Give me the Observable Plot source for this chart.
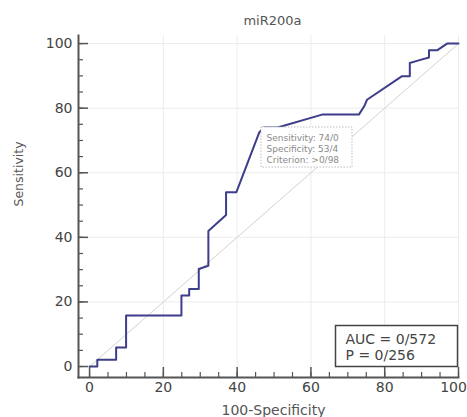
<!DOCTYPE html>
<html>
<head>
<meta charset="utf-8">
<script src="https://cdn.jsdelivr.net/npm/d3@7"></script>
<script src="https://cdn.jsdelivr.net/npm/@observablehq/plot@0.6"></script>
<style>
  html, body { margin: 0; padding: 0; background: #fff; }
</style>
</head>
<body>
<div id="chart"></div>
<script>
// ROC curve points: x = 100 - Specificity, y = Sensitivity
const fpr = [0, 2.1, 2.1, 7.2, 7.2, 9.9, 9.9, 24.9, 24.9, 27.0, 27.0, 29.6, 29.6, 32.2, 32.2, 37.0, 37.0, 39.8, 46.0, 47.2, 51.0, 63.0, 73.0, 74.4, 75.2, 84.7, 86.8, 86.8, 89.2, 92.0, 92.0, 94.2, 96.9, 100];
const tpr = [0, 0, 2.1, 2.1, 5.9, 5.9, 15.8, 15.8, 22.0, 22.0, 24.0, 24.0, 30.2, 31.2, 42.0, 46.9, 54.0, 54.0, 72.5, 74.0, 74.0, 78.0, 78.0, 80.5, 82.6, 89.9, 89.9, 94.0, 94.8, 95.7, 97.9, 97.9, 100, 100];
const diagX = [0, 100];
const diagY = [0, 100];

const title = "miR200a";
const xLabel = "100-Specificity";
const yLabel = "Sensitivity";

const xMajor = [0, 20, 40, 60, 80];
const xLast = [100];
const yMajor = [0, 20, 40, 60, 80, 100];
const minorTicks = [0, 5, 10, 15, 20, 25, 30, 35, 40, 45, 50, 55, 60, 65, 70, 75, 80, 85, 90, 95, 100];
const gridValues = [20, 40, 60, 80, 100];

// Optimal criterion
const critSensitivity = 74.0;
const critSpecificity = 53.4;
const critLines = ["Sensitivity: 74/0", "Specificity: 53/4", "Criterion: >0/98"];

const aucLines = ["AUC = 0/572", "P = 0/256"];

const roc = fpr.map((x, i) => ({x, y: tpr[i]}));
const diag = diagX.map((x, i) => ({x, y: diagY[i]}));
const crit = [{x: 100 - critSpecificity, y: critSensitivity, text: critLines.join("\n")}];

const axisColor = "#555";

const chart = Plot.plot({
  width: 467,
  height: 417,
  marginLeft: 78,
  marginRight: 9,
  marginTop: 35,
  marginBottom: 40,
  style: {fontFamily: "'DejaVu Sans', sans-serif", fontSize: "14px", color: "#444", background: "#fff"},
  x: {domain: [-3, 100]},
  y: {domain: [-3.4, 102.5]},
  marks: [
    Plot.gridX(gridValues, {stroke: "#ececec", strokeOpacity: 1}),
    Plot.gridY(gridValues, {stroke: "#ececec", strokeOpacity: 1}),
    Plot.line(diag, {x: "x", y: "y", stroke: "#d0d4c8", strokeWidth: 1}),
    Plot.line(roc, {x: "x", y: "y", stroke: "#3d3d8a", strokeWidth: 2, strokeLinejoin: "round"}),
    Plot.rect(crit, {x1: "x", x2: "x", y1: "y", y2: "y", insetRight: -91, insetBottom: -40, fill: "#fff", stroke: "#bdbdbd", strokeDasharray: "1.5,1.5"}),
    Plot.text(crit, {x: "x", y: "y", text: "text", textAnchor: "start", lineAnchor: "top", dx: 5, dy: 5, fontSize: 9, lineHeight: 1.25, fill: "#8a8a8a"}),
    // AUC box
    Plot.frame({insetLeft: 257, insetTop: 290, insetRight: 1, insetBottom: 11, stroke: "#444", strokeWidth: 1.5, fill: "#fff"}),
    Plot.text([aucLines.join("\n")], {frameAnchor: "bottom-right", textAnchor: "start", lineAnchor: "top", dx: -113, dy: -45, fontSize: 14, lineHeight: 1.15, fill: "#444"}),
    // axes
    Plot.frame({anchor: "left", stroke: axisColor, strokeWidth: 2}),
    Plot.frame({anchor: "bottom", stroke: axisColor, strokeWidth: 2}),
    Plot.axisY(yMajor, {anchor: "left", tickSize: 10, dx: 10, tickPadding: 6, stroke: axisColor, strokeWidth: 1.5, fill: "#444", fontSize: 14, label: null}),
    Plot.axisY(minorTicks, {anchor: "left", tickSize: 5, dx: 5, tickFormat: () => "", stroke: axisColor, strokeWidth: 1.2, label: null}),
    Plot.axisX(xMajor, {anchor: "bottom", tickSize: 10, dy: -10, tickPadding: 5, stroke: axisColor, strokeWidth: 1.5, fill: "#444", fontSize: 14, label: null}),
    Plot.axisX(xLast, {anchor: "bottom", tickSize: 0, dy: 0, tickPadding: 5, dx: -5, fill: "#444", fontSize: 14, label: null}),
    Plot.axisX(xLast, {anchor: "bottom", tickSize: 10, dy: -10, tickFormat: () => "", stroke: axisColor, strokeWidth: 1.5, label: null}),
    Plot.axisX(minorTicks, {anchor: "bottom", tickSize: 5, dy: -5, tickFormat: () => "", stroke: axisColor, strokeWidth: 1.2, label: null}),
    // titles
    Plot.text([title], {frameAnchor: "top", dx: 4, dy: -15, lineAnchor: "middle", fontSize: 13, fill: "#555"}),
    Plot.text([xLabel], {frameAnchor: "bottom", dx: 5, dy: 33, lineAnchor: "middle", fontSize: 14, fill: "#555"}),
    Plot.text([yLabel], {frameAnchor: "left", dx: -60, rotate: -90, lineAnchor: "middle", fontSize: 12.5, fill: "#555"})
  ]
});

document.getElementById("chart").appendChild(chart);
</script>
</body>
</html>
